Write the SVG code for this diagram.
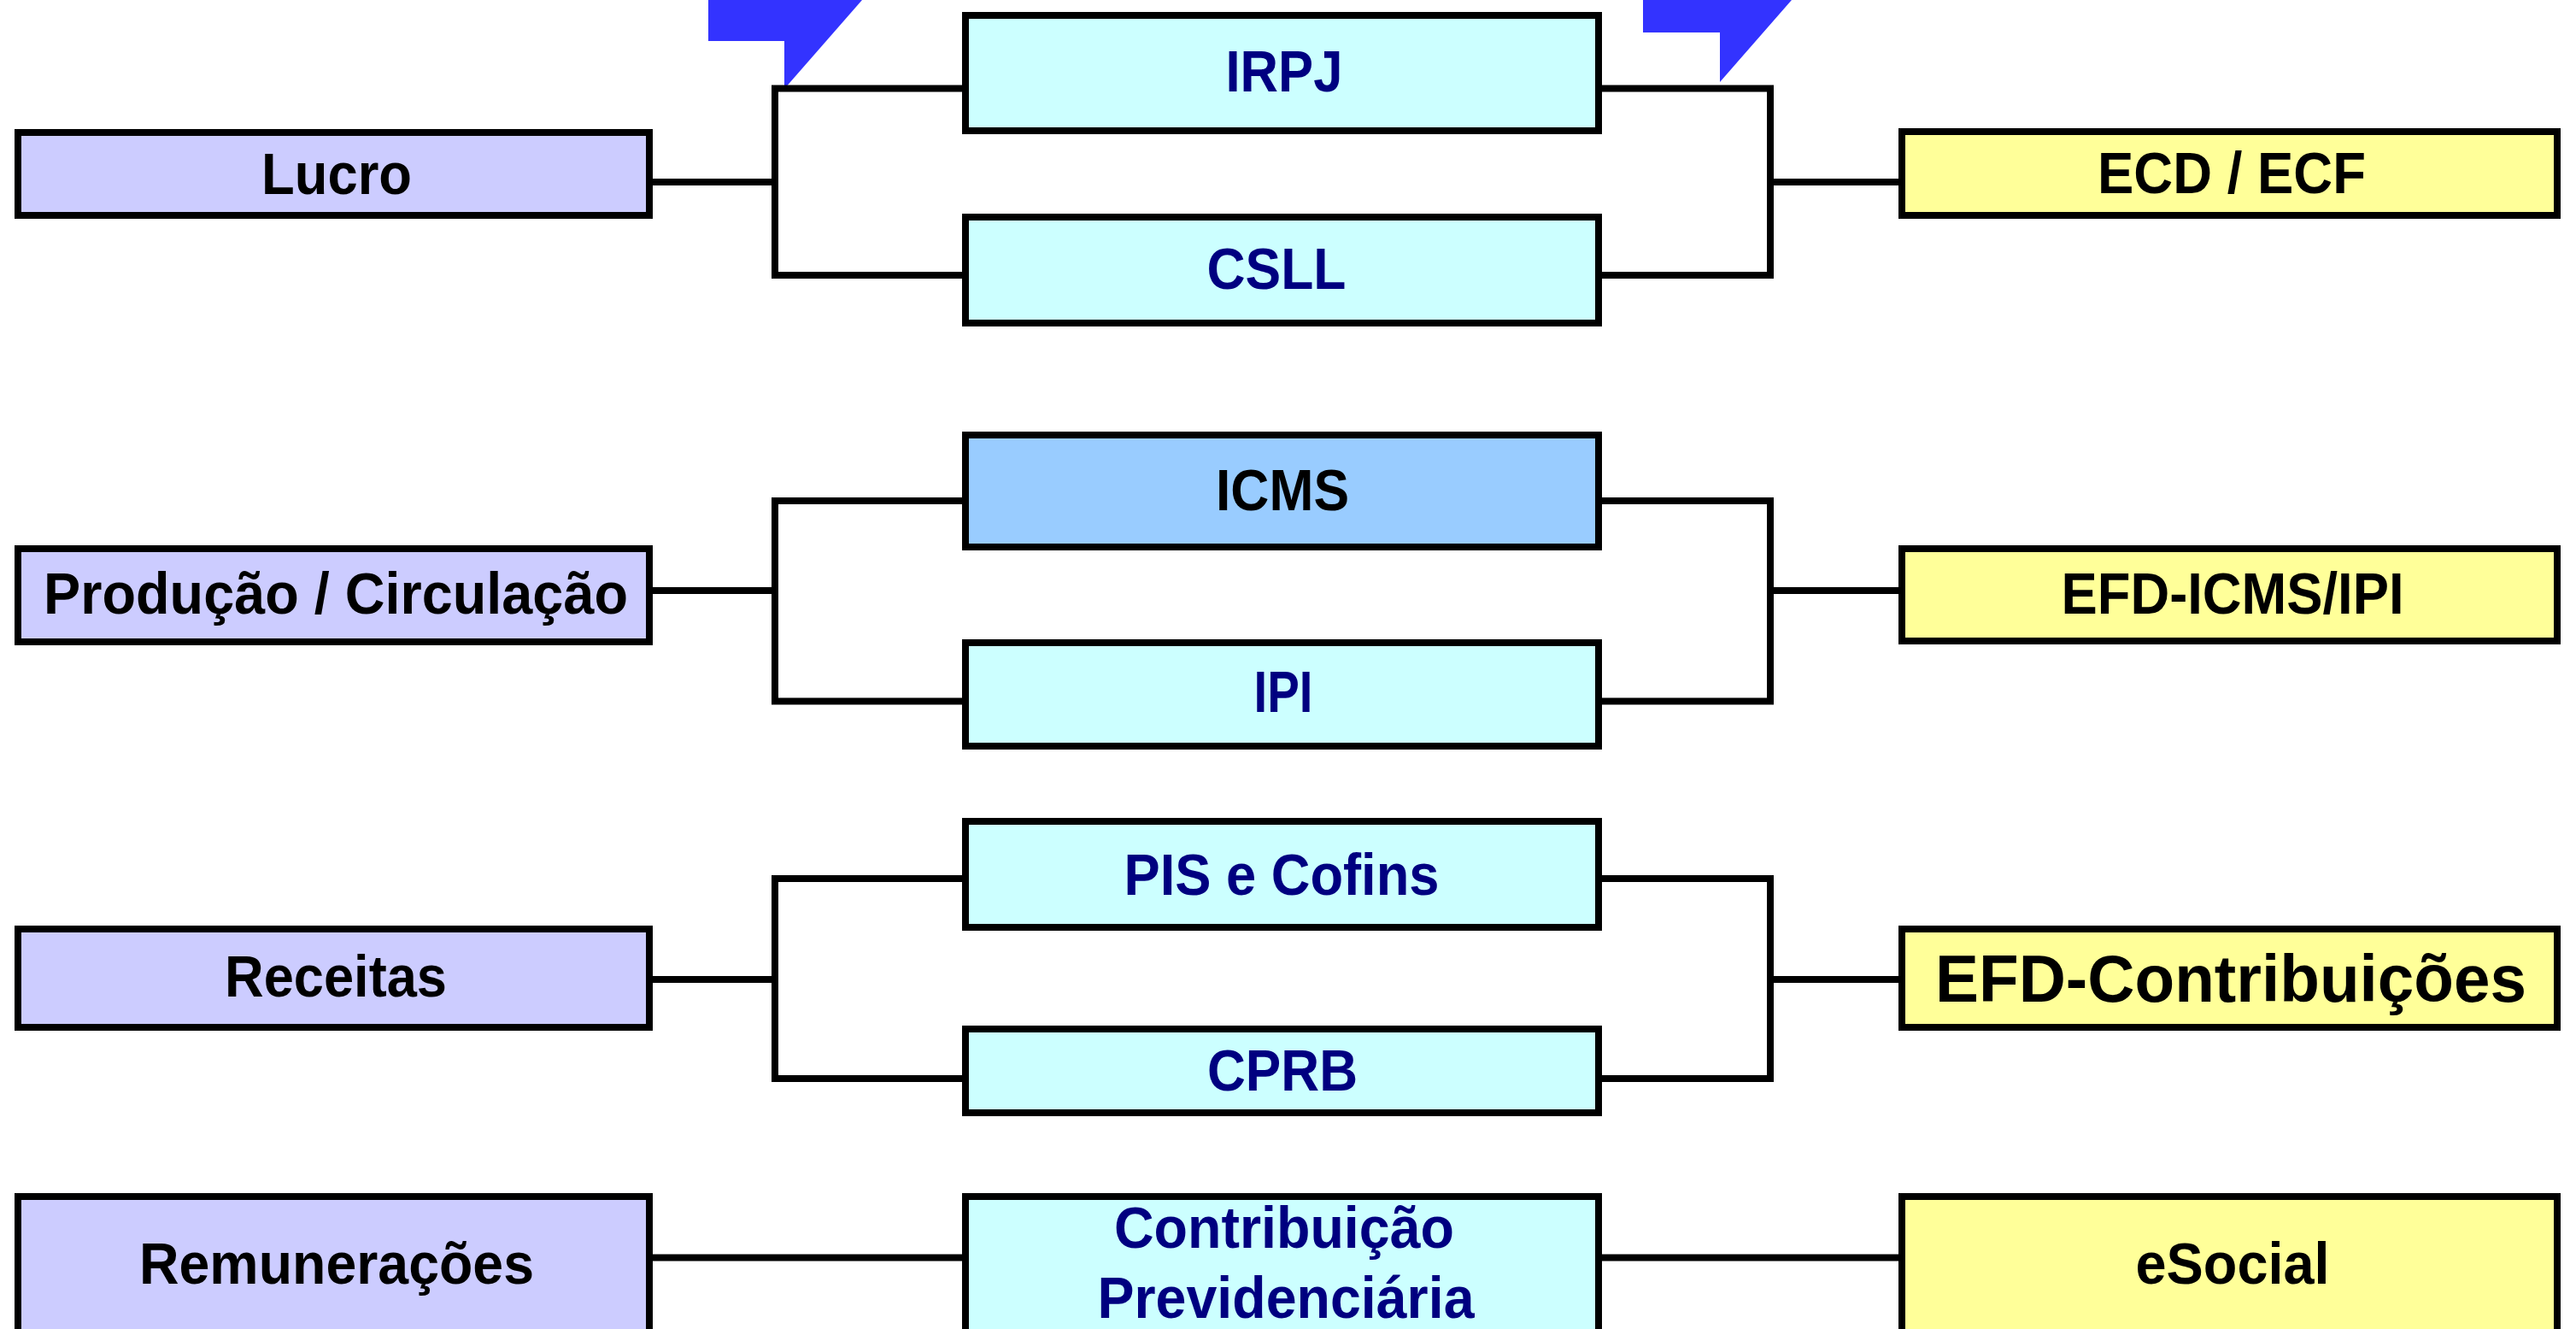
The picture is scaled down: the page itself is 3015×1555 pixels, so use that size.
<svg xmlns="http://www.w3.org/2000/svg" width="3015" height="1555" viewBox="0 0 3015 1555">
<style>
.box{stroke:#000;stroke-width:8}
.src{fill:#CCCCFF}
.tax{fill:#CCFFFF}
.icms{fill:#99CCFF}
.out{fill:#FFFF99}
text{font-family:"Liberation Sans",Arial,sans-serif;font-weight:bold;font-size:69px;text-anchor:middle}
.tk{fill:#000}
.tn{fill:#000080}
.conn{fill:none;stroke:#000;stroke-width:8;stroke-linejoin:miter;stroke-linecap:butt}
.flag{fill:#3333FF}
</style>
<rect width="3015" height="1555" fill="#fff"/>
<g id="flags">
<polygon class="flag" points="829,0 1009,0 918,104 918,48 829,48"/>
<polygon class="flag" points="1923,0 2097,0 2013,96 2013,38 1923,38"/>
</g>
<g id="connectors">
<path class="conn" d="M764,213 H907 M1126,103.5 H907 V322 H1126 M1875,103.5 H2072 V322 H1875 M2072,213 H2222"/>
<path class="conn" d="M764,691 H907 M1126,586 H907 V820.5 H1126 M1875,586 H2072 V820.5 H1875 M2072,691 H2222"/>
<path class="conn" d="M764,1146 H907 M1126,1028 H907 V1262 H1126 M1875,1028 H2072 V1262 H1875 M2072,1146 H2222"/>
<path class="conn" d="M764,1471.5 H1126 M1875,1471.5 H2222"/>
</g>
<g id="lucro"><rect class="box src" x="21" y="155" width="739" height="97"/><text class="tk" x="394" y="227" textLength="176" lengthAdjust="spacingAndGlyphs">Lucro</text></g>
<g id="irpj"><rect class="box tax" x="1130" y="18" width="741" height="135"/><text class="tn" x="1503" y="107" textLength="137" lengthAdjust="spacingAndGlyphs">IRPJ</text></g>
<g id="csll"><rect class="box tax" x="1130" y="254" width="741" height="124"/><text class="tn" x="1494" y="338" textLength="163" lengthAdjust="spacingAndGlyphs">CSLL</text></g>
<g id="ecd"><rect class="box out" x="2226" y="154" width="767" height="98"/><text class="tk" x="2612" y="226" textLength="314" lengthAdjust="spacingAndGlyphs">ECD / ECF</text></g>
<g id="producao"><rect class="box src" x="21" y="642" width="739" height="109"/><text class="tk" x="393" y="718" textLength="684" lengthAdjust="spacingAndGlyphs">Produção / Circulação</text></g>
<g id="icms"><rect class="box icms" x="1130" y="509" width="741" height="131"/><text class="tk" x="1501" y="597" textLength="156" lengthAdjust="spacingAndGlyphs">ICMS</text></g>
<g id="ipi"><rect class="box tax" x="1130" y="752" width="741" height="121"/><text class="tn" x="1502" y="833" textLength="69" lengthAdjust="spacingAndGlyphs">IPI</text></g>
<g id="efd-icms"><rect class="box out" x="2226" y="642" width="767" height="108"/><text class="tk" x="2613" y="718" textLength="401" lengthAdjust="spacingAndGlyphs">EFD-ICMS/IPI</text></g>
<g id="receitas"><rect class="box src" x="21" y="1087" width="739" height="115"/><text class="tk" x="393" y="1166" textLength="260" lengthAdjust="spacingAndGlyphs">Receitas</text></g>
<g id="pis"><rect class="box tax" x="1130" y="961" width="741" height="124"/><text class="tn" x="1500" y="1047" textLength="369" lengthAdjust="spacingAndGlyphs">PIS e Cofins</text></g>
<g id="cprb"><rect class="box tax" x="1130" y="1204" width="741" height="98"/><text class="tn" x="1501" y="1276" textLength="176" lengthAdjust="spacingAndGlyphs">CPRB</text></g>
<g id="efd-contrib"><rect class="box out" x="2226" y="1087" width="767" height="115"/><text class="tk" x="2611" y="1172" style="font-size:78px" textLength="692" lengthAdjust="spacingAndGlyphs">EFD-Contribuições</text></g>
<g id="remuneracoes"><rect class="box src" x="21" y="1400" width="739" height="200"/><text class="tk" x="394" y="1502" textLength="462" lengthAdjust="spacingAndGlyphs">Remunerações</text></g>
<g id="contrib-prev"><rect class="box tax" x="1130" y="1400" width="741" height="200"/><text class="tn" x="1503" y="1460" textLength="398" lengthAdjust="spacingAndGlyphs">Contribuição</text><text class="tn" x="1505" y="1542" textLength="441" lengthAdjust="spacingAndGlyphs">Previdenciária</text></g>
<g id="esocial"><rect class="box out" x="2226" y="1400" width="767" height="200"/><text class="tk" x="2613" y="1502" textLength="227" lengthAdjust="spacingAndGlyphs">eSocial</text></g>
</svg>
